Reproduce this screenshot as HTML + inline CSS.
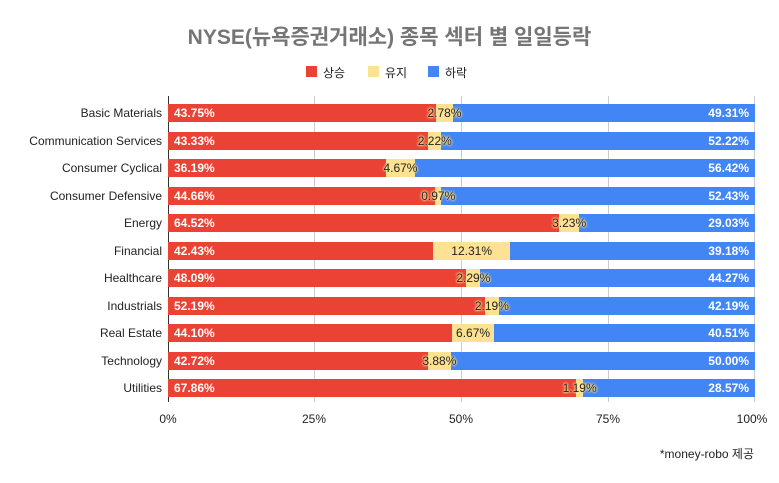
<!DOCTYPE html>
<html><head><meta charset="utf-8"><style>
body{margin:0;width:779px;height:483px;background:#fff;font-family:"Liberation Sans","Noto Sans CJK KR",sans-serif;position:relative;overflow:hidden}
.t{position:absolute;left:0;width:779px;top:21px;text-align:center;font-size:21px;font-weight:bold;color:#757575}
.lg{position:absolute;top:64px;font-size:12px;color:#222}
.sw{position:absolute;top:66px;width:11px;height:11px}
.g{position:absolute;top:96px;height:306px;width:1px;background:#ccc}
.row{position:absolute;left:168px;width:587px;height:18px;display:flex}
.row div{flex-basis:0;flex-shrink:1;min-width:0;height:18px;position:relative;font-size:12px;line-height:18px;white-space:nowrap}
.r{background:#ea4335;color:#fff;font-weight:bold}
.r span{position:absolute;left:6px}
.y{background:#fde293;color:#222;overflow:visible;z-index:3}
.y span{position:absolute;left:50%;transform:translateX(-50%);text-shadow:0 0 1px #fde293,0 0 2px #fde293,0 0 2px #fde293,0 0 3px #fde293}
.b{background:#4285f4;color:#fff;font-weight:bold}
.b span{position:absolute;right:6px}
.lab{position:absolute;right:617px;font-size:12px;color:#222;line-height:18px;white-space:nowrap}
.xt{position:absolute;top:412px;font-size:12px;color:#222;transform:translateX(-50%)}
</style></head><body>
<div class="t">NYSE(뉴욕증권거래소) 종목 섹터 별 일일등락</div>
<div class="sw" style="left:306px;background:#ea4335"></div><div class="lg" style="left:323px">상승</div>
<div class="sw" style="left:368px;background:#fde293"></div><div class="lg" style="left:385px">유지</div>
<div class="sw" style="left:428px;background:#4285f4"></div><div class="lg" style="left:445px">하락</div>
<div class="g" style="left:168px;background:#333"></div>
<div class="g" style="left:314px"></div>
<div class="g" style="left:461px"></div>
<div class="g" style="left:608px"></div>
<div class="g" style="left:754px"></div>

<div class="lab" style="top:104px">Basic Materials</div>
<div class="row" style="top:104px"><div class="r" style="flex-grow:43.75"><span>43.75%</span></div><div class="y" style="flex-grow:2.78"><span>2.78%</span></div><div class="b" style="flex-grow:49.31"><span>49.31%</span></div></div>
<div class="lab" style="top:131.5px">Communication Services</div>
<div class="row" style="top:131.5px"><div class="r" style="flex-grow:43.33"><span>43.33%</span></div><div class="y" style="flex-grow:2.22"><span>2.22%</span></div><div class="b" style="flex-grow:52.22"><span>52.22%</span></div></div>
<div class="lab" style="top:159px">Consumer Cyclical</div>
<div class="row" style="top:159px"><div class="r" style="flex-grow:36.19"><span>36.19%</span></div><div class="y" style="flex-grow:4.67"><span>4.67%</span></div><div class="b" style="flex-grow:56.42"><span>56.42%</span></div></div>
<div class="lab" style="top:186.5px">Consumer Defensive</div>
<div class="row" style="top:186.5px"><div class="r" style="flex-grow:44.66"><span>44.66%</span></div><div class="y" style="flex-grow:0.97"><span>0.97%</span></div><div class="b" style="flex-grow:52.43"><span>52.43%</span></div></div>
<div class="lab" style="top:214px">Energy</div>
<div class="row" style="top:214px"><div class="r" style="flex-grow:64.52"><span>64.52%</span></div><div class="y" style="flex-grow:3.23"><span>3.23%</span></div><div class="b" style="flex-grow:29.03"><span>29.03%</span></div></div>
<div class="lab" style="top:241.5px">Financial</div>
<div class="row" style="top:241.5px"><div class="r" style="flex-grow:42.43"><span>42.43%</span></div><div class="y" style="flex-grow:12.31"><span>12.31%</span></div><div class="b" style="flex-grow:39.18"><span>39.18%</span></div></div>
<div class="lab" style="top:269px">Healthcare</div>
<div class="row" style="top:269px"><div class="r" style="flex-grow:48.09"><span>48.09%</span></div><div class="y" style="flex-grow:2.29"><span>2.29%</span></div><div class="b" style="flex-grow:44.27"><span>44.27%</span></div></div>
<div class="lab" style="top:296.5px">Industrials</div>
<div class="row" style="top:296.5px"><div class="r" style="flex-grow:52.19"><span>52.19%</span></div><div class="y" style="flex-grow:2.19"><span>2.19%</span></div><div class="b" style="flex-grow:42.19"><span>42.19%</span></div></div>
<div class="lab" style="top:324px">Real Estate</div>
<div class="row" style="top:324px"><div class="r" style="flex-grow:44.10"><span>44.10%</span></div><div class="y" style="flex-grow:6.67"><span>6.67%</span></div><div class="b" style="flex-grow:40.51"><span>40.51%</span></div></div>
<div class="lab" style="top:351.5px">Technology</div>
<div class="row" style="top:351.5px"><div class="r" style="flex-grow:42.72"><span>42.72%</span></div><div class="y" style="flex-grow:3.88"><span>3.88%</span></div><div class="b" style="flex-grow:50.00"><span>50.00%</span></div></div>
<div class="lab" style="top:379px">Utilities</div>
<div class="row" style="top:379px"><div class="r" style="flex-grow:67.86"><span>67.86%</span></div><div class="y" style="flex-grow:1.19"><span>1.19%</span></div><div class="b" style="flex-grow:28.57"><span>28.57%</span></div></div>

<div class="xt" style="left:168px">0%</div>
<div class="xt" style="left:314px">25%</div>
<div class="xt" style="left:461px">50%</div>
<div class="xt" style="left:608px">75%</div>
<div class="xt" style="left:752px">100%</div>
<div style="position:absolute;right:25px;top:445px;font-size:12px;color:#222">*money-robo 제공</div>
</body></html>
